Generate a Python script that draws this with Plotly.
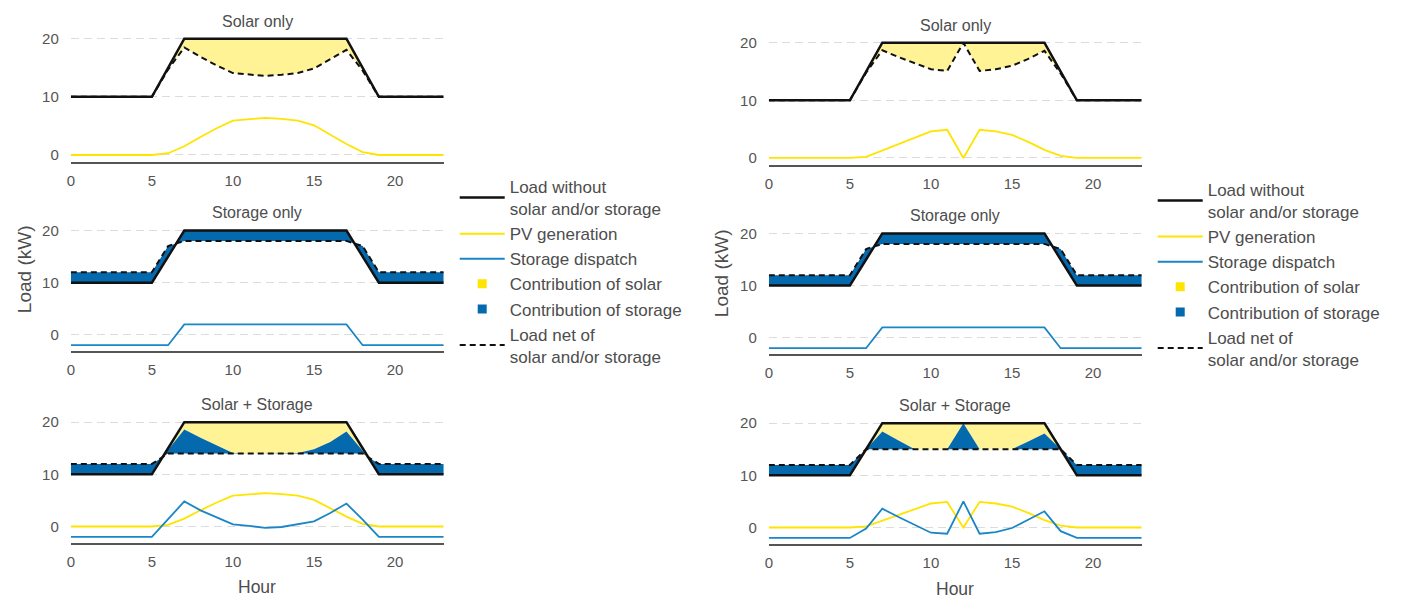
import plotly.graph_objects as go

# ---------------- data ----------------
hours = [0, 1, 2, 3, 4, 5, 6, 7, 8, 9, 10, 11, 12, 13, 14, 15, 16, 17, 18, 19, 20, 21, 22, 23]
x_ticks = [0, 5, 10, 15, 20]
y_ticks = [0, 10, 20]

load = [10, 10, 10, 10, 10, 10, 15, 20, 20, 20, 20, 20, 20, 20, 20, 20, 20, 20, 15, 10, 10, 10, 10, 10]

# Left panel (clear-sky PV)
pv_a = [0, 0, 0, 0, 0, 0, 0.3, 1.5, 3.1, 4.6, 5.9, 6.1, 6.4, 6.2, 5.9, 5.1, 3.5, 1.9, 0.5, 0, 0, 0, 0, 0]
net_solar_a = [10, 10, 10, 10, 10, 10, 14.7, 18.5, 16.9, 15.4, 14.1, 13.9, 13.6, 13.8, 14.1, 14.9, 16.5, 18.1, 14.5, 10, 10, 10, 10, 10]
storage_only = [-2, -2, -2, -2, -2, -2, -2, 2, 2, 2, 2, 2, 2, 2, 2, 2, 2, 2, -2, -2, -2, -2, -2, -2]
net_storage = [12, 12, 12, 12, 12, 12, 17, 18, 18, 18, 18, 18, 18, 18, 18, 18, 18, 18, 17, 12, 12, 12, 12, 12]
storage_a = [-2, -2, -2, -2, -2, -2, 1.4, 4.8, 3.1, 1.7, 0.4, 0.1, -0.25, -0.1, 0.4, 1.0, 2.6, 4.4, 1.3, -2, -2, -2, -2, -2]
net_ss_a = [12, 12, 12, 12, 12, 12, 14, 14, 14, 14, 14, 14, 14, 14, 14, 14, 14, 14, 14, 12, 12, 12, 12, 12]
solar_floor_a = [10, 10, 10, 10, 10, 10, 14.7, 18.6, 17.0, 15.5, 14.1, 14.0, 14.0, 14.0, 14.1, 14.8, 16.2, 18.2, 14.5, 10, 10, 10, 10, 10]

# Right panel (cloud at noon)
pv_b = [0, 0, 0, 0, 0, 0, 0.2, 1.3, 2.5, 3.5, 4.6, 4.9, 0, 4.9, 4.6, 4.0, 2.8, 1.4, 0.35, 0, 0, 0, 0, 0]
net_solar_b = [10, 10, 10, 10, 10, 10, 14.8, 18.7, 17.5, 16.5, 15.4, 15.1, 20, 15.1, 15.4, 16.0, 17.2, 18.6, 14.65, 10, 10, 10, 10, 10]
storage_b = [-2, -2, -2, -2, -2, -2, -0.2, 3.6, 2.0, 0.5, -1.0, -1.2, 5.0, -1.2, -0.9, -0.1, 1.5, 3.1, -0.7, -2, -2, -2, -2, -2]
net_ss_b = [12, 12, 12, 12, 12, 12, 15, 15, 15, 15, 15, 15, 15, 15, 15, 15, 15, 15, 15, 12, 12, 12, 12, 12]
solar_floor_b = [10, 10, 10, 10, 10, 10, 15, 18.4, 16.7, 15, 15, 15, 20, 15, 15, 15, 16.5, 18.0, 15, 10, 10, 10, 10, 10]

subplot_titles = ["Solar only", "Storage only", "Solar + Storage"]
legend_names = ["Load without<br>solar and/or storage", "PV generation", "Storage dispatch",
                "Contribution of solar", "Contribution of storage", "Load net of<br>solar and/or storage"]

# ---------------- style ----------------
W, H = 1401, 600
FONT = "Liberation Sans, Arial, sans-serif"
TXT = "#4D4D4D"
YEL_LINE = "#FFE400"
YEL_FILL = "#FFF396"
BLUE_FILL = "#0569AE"
BLUE_LINE = "#1A86C6"
BLACK = "#111111"

fig = go.Figure()


def ax(sp):
    return ("x" if sp == 1 else "x%d" % sp), ("y" if sp == 1 else "y%d" % sp)


def band(sp, upper, lower, color):
    xa, ya = ax(sp)
    fig.add_trace(go.Scatter(x=hours, y=upper, mode="lines", line=dict(width=0), xaxis=xa, yaxis=ya,
                             showlegend=False, hoverinfo="skip"))
    fig.add_trace(go.Scatter(x=hours, y=lower, mode="lines", line=dict(width=0), fill="tonexty",
                             fillcolor=color, xaxis=xa, yaxis=ya, showlegend=False, hoverinfo="skip"))


def line(sp, y, color, width, dash="solid"):
    xa, ya = ax(sp)
    fig.add_trace(go.Scatter(x=hours, y=y, mode="lines", line=dict(color=color, width=width, dash=dash),
                             xaxis=xa, yaxis=ya, showlegend=False, hoverinfo="skip"))


DASH = "6px,4px"

panels = [
    dict(base=1, pv=pv_a, net_solar=net_solar_a, storage=storage_a, net_ss=net_ss_a, floor=solar_floor_a),
    dict(base=4, pv=pv_b, net_solar=net_solar_b, storage=storage_b, net_ss=net_ss_b, floor=solar_floor_b),
]

for p in panels:
    b = p["base"]
    # Solar only
    band(b, load, p["net_solar"], YEL_FILL)
    line(b, p["pv"], YEL_LINE, 1.8)
    line(b, load, BLACK, 2.5)
    line(b, p["net_solar"], BLACK, 2, DASH)
    # Storage only
    band(b + 1, load, net_storage, BLUE_FILL)
    line(b + 1, storage_only, BLUE_LINE, 1.8)
    line(b + 1, load, BLACK, 2.5)
    line(b + 1, net_storage, BLACK, 2, DASH)
    # Solar + storage
    band(b + 2, load, p["floor"], YEL_FILL)
    band(b + 2, p["floor"], p["net_ss"], BLUE_FILL)
    line(b + 2, p["pv"], YEL_LINE, 1.8)
    line(b + 2, p["storage"], BLUE_LINE, 1.8)
    line(b + 2, load, BLACK, 2.5)
    line(b + 2, p["net_ss"], BLACK, 2, DASH)

# legend-only entries
for leg in ["legend", "legend2"]:
    specs = [
        dict(mode="lines", line=dict(color=BLACK, width=2.5)),
        dict(mode="lines", line=dict(color=YEL_LINE, width=2)),
        dict(mode="lines", line=dict(color=BLUE_LINE, width=2)),
        dict(mode="markers", marker=dict(color=YEL_LINE, size=9, symbol="square")),
        dict(mode="markers", marker=dict(color=BLUE_FILL, size=9, symbol="square")),
        dict(mode="lines", line=dict(color=BLACK, width=2, dash=DASH)),
    ]
    for i, (name, s) in enumerate(zip(legend_names, specs)):
        fig.add_trace(go.Scatter(x=[None], y=[None], name=name, legend=leg, legendgroup=leg + str(i),
                                 showlegend=True, hoverinfo="skip", **s))

# ---------------- layout ----------------
# (left px, right px) for panel x, and (pixel of y=20, pixel of y=0, ymin, ymax) for each subplot
x_px = {1: (67, 441), 4: (767, 1141)}
y_px = {
    1: (36, 153, -1.2, 21.0), 2: (229, 334, -3.2, 21.1), 3: (422, 527, -3.2, 21.1),
    4: (40, 156, -1.2, 21.0), 5: (232, 337, -3.2, 21.1), 6: (423, 528, -3.2, 21.1),
}

layout = dict(
    width=W, height=H, margin=dict(l=0, r=0, t=0, b=0),
    paper_bgcolor="white", plot_bgcolor="white",
    font=dict(family=FONT, color=TXT, size=15),
    hovermode=False,
    annotations=[],
)

for sp in range(1, 7):
    xl, xr = x_px[1 if sp <= 3 else 4]
    p20, p0, ymin, ymax = y_px[sp]
    unit = (p0 - p20) / 20.0
    top = p0 - ymax * unit
    bot = p0 - ymin * unit
    xa = "xaxis" if sp == 1 else "xaxis%d" % sp
    ya = "yaxis" if sp == 1 else "yaxis%d" % sp
    xref, yref = ax(sp)
    layout[xa] = dict(domain=[xl / W, xr / W], range=[0, 23], anchor=yref, tickvals=x_ticks,
                      showgrid=False, zeroline=False, showline=True, linecolor="#555555", linewidth=2,
                      ticks="outside", ticklen=4, tickcolor="rgba(0,0,0,0)",
                      tickfont=dict(size=15, color="#555555"), fixedrange=True)
    layout[ya] = dict(domain=[1 - bot / H, 1 - top / H], range=[ymin, ymax], anchor=xref, tickvals=y_ticks,
                      showgrid=True, gridcolor="#DCDCDC", gridwidth=1, griddash="8px,5px",
                      zeroline=False, showline=False, ticks="outside", ticklen=8,
                      tickcolor="rgba(0,0,0,0)", tickfont=dict(size=15, color="#555555"), fixedrange=True)
    title = subplot_titles[(sp - 1) % 3]
    layout["annotations"].append(dict(text=title, x=(xl + xr) / 2 / W, y=1 - (top - 12) / H, xref="paper",
                                      yref="paper", showarrow=False, font=dict(size=16, color=TXT),
                                      xanchor="center", yanchor="middle"))

for cx, hy in [(254, 588), (954, 590)]:
    layout["annotations"].append(dict(text="Hour", x=cx / W, y=1 - hy / H, xref="paper", yref="paper",
                                      showarrow=False, font=dict(size=17.5, color=TXT),
                                      xanchor="center", yanchor="middle"))
for lx, ly in [(20, 268), (719, 272)]:
    layout["annotations"].append(dict(text="Load (kW)", x=lx / W, y=1 - ly / H, xref="paper", yref="paper",
                                      showarrow=False, textangle=-90, font=dict(size=19, color=TXT),
                                      xanchor="center", yanchor="middle"))

leg_common = dict(xanchor="left", yanchor="top", font=dict(size=17, color=TXT, family=FONT),
                  tracegroupgap=0, bgcolor="rgba(0,0,0,0)", borderwidth=0, itemclick=False,
                  itemdoubleclick=False, itemwidth=45)
layout["legend"] = dict(x=452 / W, y=1 - 167 / H, **leg_common)
layout["legend2"] = dict(x=1152 / W, y=1 - 170 / H, **leg_common)

fig.update_layout(**layout)
fig.write_html("out.html", config={"displayModeBar": False, "staticPlot": True},
               post_script="document.body.style.margin='0px';document.body.style.overflow='hidden';")
